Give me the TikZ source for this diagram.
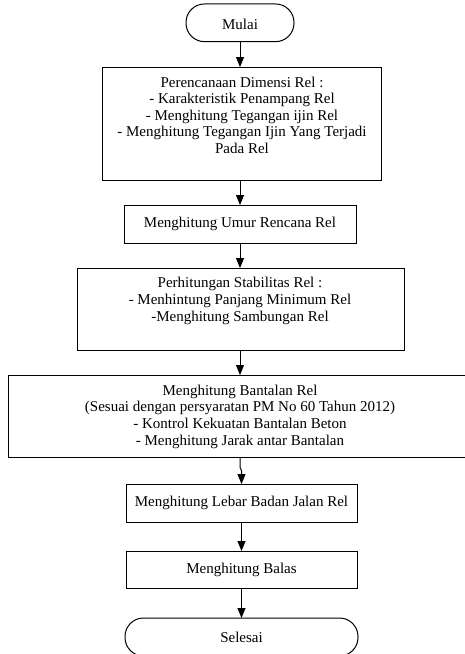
\documentclass[tikz,border=0pt]{standalone}
\usepackage{fontspec}
\setmainfont{Liberation Serif}
\usetikzlibrary{arrows.meta}
\begin{document}
\begin{tikzpicture}[x=1pt,y=-1pt,
  box/.style={draw, line width=1pt, rectangle, inner sep=0pt, outer sep=0pt},
  term/.style={box, rounded corners=18.5pt},
  txt/.style={align=center, font=\fontsize{15}{16.6}\selectfont, inner sep=0pt},
  arr/.style={line width=1pt, -{Triangle[length=10pt,width=8pt]}}]
\useasboundingbox (0,0) rectangle (465,654);
% shapes
\node[term, minimum width=108pt, minimum height=37.7pt] (mulai) at (240,22.8) {};
\node[box, minimum width=279pt, minimum height=113pt] (b1) at (241.5,123.5) {};
\node[box, minimum width=232pt, minimum height=38pt] (b2) at (240,224) {};
\node[box, minimum width=327pt, minimum height=82pt] (b3) at (240.5,309) {};
\node[box, minimum width=463.4pt, minimum height=82.5pt] (b4) at (240,416.25) {};
\node[box, minimum width=231pt, minimum height=38pt] (b5) at (241.5,503) {};
\node[box, minimum width=231pt, minimum height=37pt] (b6) at (241.5,569.5) {};
\node[term, minimum width=233pt, minimum height=38pt] (selesai) at (241.5,637) {};
% texts
\node[txt] (tmulai) at (240,24) {Mulai};
\node[txt] (t1) at (242,115.2) {Perencanaan Dimensi Rel :\\- Karakteristik Penampang Rel\\- Menghitung Tegangan ijin Rel\\- Menghitung Tegangan Ijin Yang Terjadi\\Pada Rel};
\node[txt] (t2) at (240,223.5) {Menghitung Umur Rencana Rel};
\node[txt] (t3) at (240,301) {Perhitungan Stabilitas Rel :\\- Menhintung Panjang Minimum Rel\\-Menghitung Sambungan Rel};
\node[txt] (t4) at (240,416.7) {Menghitung Bantalan Rel\\(Sesuai dengan persyaratan PM No 60 Tahun 2012)\\- Kontrol Kekuatan Bantalan Beton\\- Menghitung Jarak antar Bantalan};
\node[txt] (t5) at (241.5,503.3) {Menghitung Lebar Badan Jalan Rel};
\node[txt] (t6) at (241.5,570) {Menghitung Balas};
\node[txt] (tselesai) at (241.5,637) {Selesai};
% connectors
\draw[arr] (mulai.south) -- (mulai.south |- b1.north);
\draw[arr] (b1.south -| mulai.south) -- (b2.north);
\draw[arr] (b2.south) -- (b2.south |- b3.north);
\draw[arr] (b3.south -| b2.south) -- (b4.north);
\draw[arr] (b4.south) -- ++(0,10) -- ++(1.5,3) -- (b5.north);
\draw[arr] (b5.south) -- (b6.north);
\draw[arr] (b6.south) -- (selesai.north);
\end{tikzpicture}
\end{document}
